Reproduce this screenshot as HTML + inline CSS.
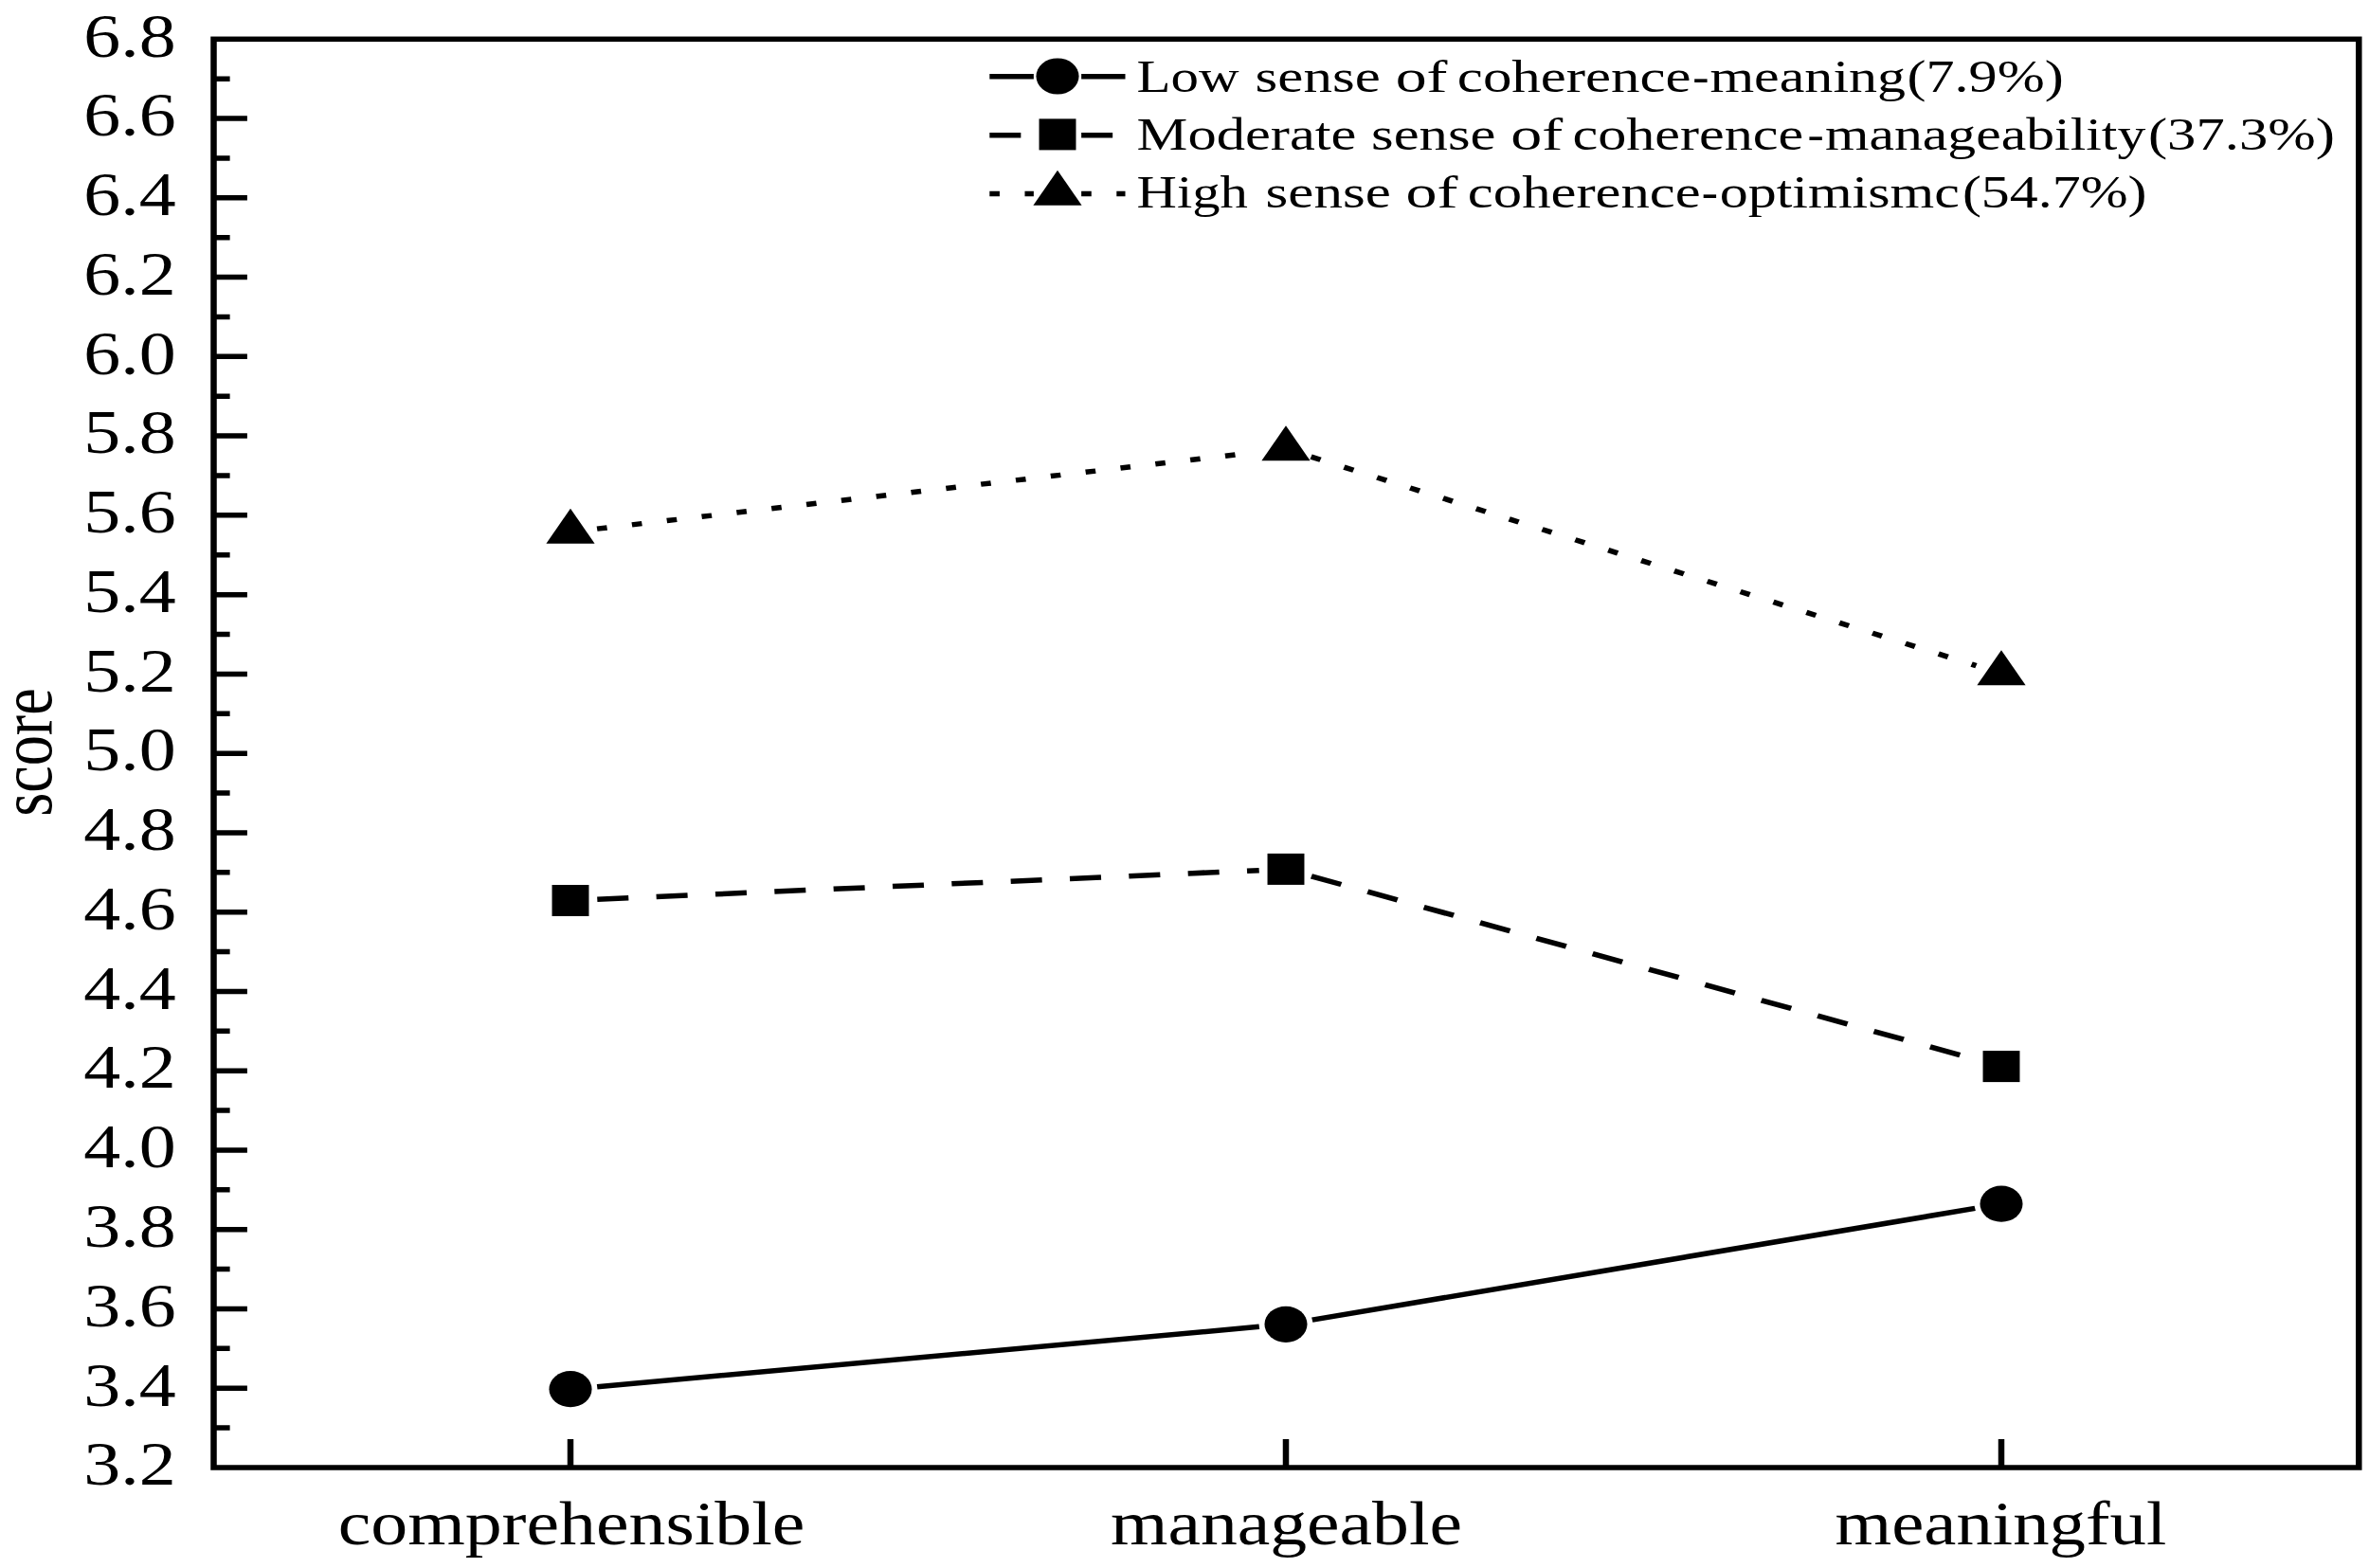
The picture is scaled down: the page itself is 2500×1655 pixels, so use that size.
<!DOCTYPE html>
<html lang="en"><head><meta charset="utf-8"><title>Sense of coherence profiles</title>
<style>html,body{margin:0;padding:0;background:#fff}body{width:2500px;height:1655px;overflow:hidden}svg{display:block}text{font-family:"Liberation Serif","Times New Roman",serif;fill:#000}</style>
</head><body>
<svg width="2500" height="1655" viewBox="0 0 2500 1655">
<rect width="2500" height="1655" fill="#fff"/>
<g transform="scale(1.18,1)" stroke="#000" stroke-width="5.5" fill="none">
<rect x="191.10" y="41.30" width="1918.47" height="1507.70"/>
<path d="M191.10 1507.12h14.5M191.10 1465.24h30M191.10 1423.36h14.5M191.10 1381.48h30M191.10 1339.60h14.5M191.10 1297.72h30M191.10 1255.84h14.5M191.10 1213.96h30M191.10 1172.07h14.5M191.10 1130.19h30M191.10 1088.31h14.5M191.10 1046.43h30M191.10 1004.55h14.5M191.10 962.67h30M191.10 920.79h14.5M191.10 878.91h30M191.10 837.03h14.5M191.10 795.15h30M191.10 753.27h14.5M191.10 711.39h30M191.10 669.51h14.5M191.10 627.63h30M191.10 585.75h14.5M191.10 543.87h30M191.10 501.99h14.5M191.10 460.11h30M191.10 418.22h14.5M191.10 376.34h30M191.10 334.46h14.5M191.10 292.58h30M191.10 250.70h14.5M191.10 208.82h30M191.10 166.94h14.5M191.10 125.06h30M191.10 83.18h14.5"/>
<path d="M510.17 1549.00v-30M1150.00 1549.00v-30M1789.83 1549.00v-30"/>
<line x1="534.03" y1="1463.65" x2="1126.14" y2="1400.35"/>
<line x1="1173.54" y1="1393.12" x2="1766.29" y2="1275.38"/>
<line x1="534.14" y1="949.26" x2="1126.03" y2="918.64" stroke-dasharray="28 24.9"/>
<line x1="1172.82" y1="924.83" x2="1767.01" y2="1118.17" stroke-dasharray="28 24.9"/>
<line x1="533.95" y1="558.14" x2="1126.22" y2="477.06" stroke-dasharray="9 22.5"/>
<line x1="1172.50" y1="482.14" x2="1767.33" y2="702.66" stroke-dasharray="9 22.5"/>
<line x1="885.00" y1="80.8" x2="924.46" y2="80.8"/>
<line x1="967.06" y1="80.8" x2="1006.36" y2="80.8"/>
<line x1="885.00" y1="142.7" x2="924.46" y2="142.7" stroke-dasharray="28 24.9"/>
<line x1="967.06" y1="142.7" x2="1006.36" y2="142.7" stroke-dasharray="28 24.9"/>
<line x1="885.00" y1="204.5" x2="924.46" y2="204.5" stroke-dasharray="9 22.5"/>
<line x1="967.06" y1="204.5" x2="1006.36" y2="204.5" stroke-dasharray="9 22.5"/>
</g>
<g transform="scale(1.18,1)" fill="#000" stroke="none">
<circle cx="510.17" cy="1466.20" r="19.1"/>
<circle cx="1150.00" cy="1397.80" r="19.1"/>
<circle cx="1789.83" cy="1270.70" r="19.1"/>
<rect x="493.67" y="934.00" width="33.0" height="33.0"/>
<rect x="1133.50" y="900.90" width="33.0" height="33.0"/>
<rect x="1773.33" y="1109.10" width="33.0" height="33.0"/>
<path d="M510.17 536.73L531.87 573.73H488.47Z"/>
<path d="M1150.00 449.13L1171.70 486.13H1128.30Z"/>
<path d="M1789.83 686.33L1811.53 723.33H1768.13Z"/>
<circle cx="945.76" cy="80.50" r="19.1"/>
<rect x="929.26" y="125.40" width="33.0" height="33.0"/>
<path d="M945.76 179.83L967.46 216.83H924.06Z"/>
</g>
<text transform="translate(185.6,1567.30) scale(1.18,1)" font-size="66" text-anchor="end">3.2</text>
<text transform="translate(185.6,1483.54) scale(1.18,1)" font-size="66" text-anchor="end">3.4</text>
<text transform="translate(185.6,1399.78) scale(1.18,1)" font-size="66" text-anchor="end">3.6</text>
<text transform="translate(185.6,1316.02) scale(1.18,1)" font-size="66" text-anchor="end">3.8</text>
<text transform="translate(185.6,1232.26) scale(1.18,1)" font-size="66" text-anchor="end">4.0</text>
<text transform="translate(185.6,1148.49) scale(1.18,1)" font-size="66" text-anchor="end">4.2</text>
<text transform="translate(185.6,1064.73) scale(1.18,1)" font-size="66" text-anchor="end">4.4</text>
<text transform="translate(185.6,980.97) scale(1.18,1)" font-size="66" text-anchor="end">4.6</text>
<text transform="translate(185.6,897.21) scale(1.18,1)" font-size="66" text-anchor="end">4.8</text>
<text transform="translate(185.6,813.45) scale(1.18,1)" font-size="66" text-anchor="end">5.0</text>
<text transform="translate(185.6,729.69) scale(1.18,1)" font-size="66" text-anchor="end">5.2</text>
<text transform="translate(185.6,645.93) scale(1.18,1)" font-size="66" text-anchor="end">5.4</text>
<text transform="translate(185.6,562.17) scale(1.18,1)" font-size="66" text-anchor="end">5.6</text>
<text transform="translate(185.6,478.41) scale(1.18,1)" font-size="66" text-anchor="end">5.8</text>
<text transform="translate(185.6,394.64) scale(1.18,1)" font-size="66" text-anchor="end">6.0</text>
<text transform="translate(185.6,310.88) scale(1.18,1)" font-size="66" text-anchor="end">6.2</text>
<text transform="translate(185.6,227.12) scale(1.18,1)" font-size="66" text-anchor="end">6.4</text>
<text transform="translate(185.6,143.36) scale(1.18,1)" font-size="66" text-anchor="end">6.6</text>
<text transform="translate(185.6,59.60) scale(1.18,1)" font-size="66" text-anchor="end">6.8</text>
<text transform="translate(356.74,1629.5) scale(1.1793,1)" font-size="66">comprehensible</text>
<text transform="translate(1172.02,1629.5) scale(1.1775,1)" font-size="66">manageable</text>
<text transform="translate(1936.54,1629.5) scale(1.1636,1)" font-size="66">meaningful</text>
<text transform="translate(54.2,794) rotate(-90) scale(1,1.2131)" font-size="64.2" text-anchor="middle">score</text>
<text transform="translate(0,96.8) scale(1.245,1)" font-size="49.5"><tspan x="963.54" textLength="86.74" lengthAdjust="spacingAndGlyphs">Low</tspan> <tspan x="1063.96" textLength="106.15" lengthAdjust="spacingAndGlyphs">sense</tspan> <tspan x="1182.87" textLength="44.05" lengthAdjust="spacingAndGlyphs">of</tspan> <tspan x="1235.24" textLength="198.17" lengthAdjust="spacingAndGlyphs">coherence</tspan><tspan x="1434.74" textLength="13.81" lengthAdjust="spacingAndGlyphs">-</tspan><tspan x="1449.31" textLength="166.04" lengthAdjust="spacingAndGlyphs">meaning</tspan><tspan x="1616.52" textLength="132.63" lengthAdjust="spacingAndGlyphs">(7.9%)</tspan></text>
<text transform="translate(0,158.0) scale(1.245,1)" font-size="49.5"><tspan x="963.52" textLength="186.27" lengthAdjust="spacingAndGlyphs">Moderate</tspan> <tspan x="1162.29" textLength="105.58" lengthAdjust="spacingAndGlyphs">sense</tspan> <tspan x="1280.62" textLength="44.13" lengthAdjust="spacingAndGlyphs">of</tspan> <tspan x="1332.92" textLength="195.82" lengthAdjust="spacingAndGlyphs">coherence</tspan><tspan x="1532.17" textLength="13.81" lengthAdjust="spacingAndGlyphs">-</tspan><tspan x="1546.98" textLength="271.73" lengthAdjust="spacingAndGlyphs">manageability</tspan><tspan x="1820.84" textLength="158.21" lengthAdjust="spacingAndGlyphs">(37.3%)</tspan></text>
<text transform="translate(0,219.2) scale(1.245,1)" font-size="49.5"><tspan x="963.55" textLength="94.21" lengthAdjust="spacingAndGlyphs">High</tspan> <tspan x="1072.72" textLength="106.24" lengthAdjust="spacingAndGlyphs">sense</tspan> <tspan x="1191.62" textLength="44.13" lengthAdjust="spacingAndGlyphs">of</tspan> <tspan x="1244.08" textLength="197.44" lengthAdjust="spacingAndGlyphs">coherence</tspan><tspan x="1442.46" textLength="13.81" lengthAdjust="spacingAndGlyphs">-</tspan><tspan x="1457.58" textLength="203.36" lengthAdjust="spacingAndGlyphs">optimismc</tspan><tspan x="1663.36" textLength="156.32" lengthAdjust="spacingAndGlyphs">(54.7%)</tspan></text>
</svg></body></html>
